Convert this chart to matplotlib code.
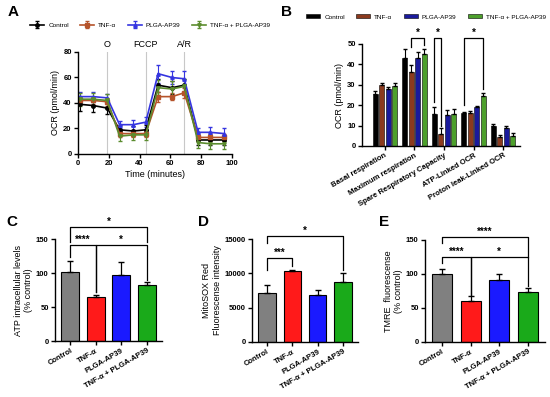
import numpy as np
import matplotlib
matplotlib.use("Agg")
import matplotlib.pyplot as plt

plt.rcParams['font.family'] = ['Liberation Sans', 'DejaVu Sans']
plt.rcParams['font.weight'] = 'bold'
plt.rcParams['axes.linewidth'] = 1.0

# ---- data ----
# A: OCR time course
time_min = [1, 10, 19, 27, 36, 44, 52, 61, 69, 78, 86, 95]
ocr_control = [39, 38, 36, 19, 18, 19, 54, 52, 54, 11, 11, 11]
ocr_tnf = [42, 42, 41, 16, 16, 16, 45, 45, 48, 13, 13, 13]
ocr_plga = [45, 45, 44, 23, 23, 25, 63, 60, 59, 17, 17, 16]
ocr_combo = [43, 43, 42, 14, 15, 15, 52, 51, 53, 9, 8, 8]
ocr_err_control = [5, 5, 5, 4, 4, 4, 5, 5, 5, 4, 4, 4]
ocr_err_tnf = [3, 3, 3, 3, 3, 3, 4, 3, 4, 3, 3, 3]
ocr_err_plga = [4, 4, 3, 3, 4, 4, 7, 5, 6, 3, 4, 4]
ocr_err_combo = [5, 5, 5, 4, 4, 4, 6, 6, 6, 4, 4, 4]
injections = [19, 44, 69]
injection_labels = ['O', 'FCCP', 'A/R']

# B: mito stress parameters
params = ['Basal respiration', 'Maximum respiration', 'Spare Respiratory Capacity',
          'ATP-Linked OCR', 'Proton leak-Linked OCR']
b_control = [25.5, 43, 15.5, 16, 10]
b_tnf = [30, 36.5, 6, 16, 4.5]
b_plga = [28, 43, 15, 19, 9]
b_combo = [29.5, 45, 15.5, 24.5, 5]
b_err_control = [1.5, 4.5, 3.5, 0.8, 0.6]
b_err_tnf = [1, 3, 3, 1, 1]
b_err_plga = [1, 3, 2.5, 0.6, 0.6]
b_err_combo = [1.5, 2.5, 2.5, 1.5, 1.2]

groups = ['Control', 'TNF-α', 'PLGA-AP39', 'TNF-α + PLGA-AP39']
# C: ATP
atp = [101, 65, 97, 82]
atp_err = [16, 3, 19, 5]
# D: MitoSOX
mitosox = [7100, 10300, 6900, 8800]
mitosox_err = [1200, 200, 700, 1200]
# E: TMRE
tmre = [100, 60, 91, 74]
tmre_err = [7, 7, 9, 5]

line_colors = ['black', '#b5532a', '#3535e0', '#5b8c2e']
line_markers = ['o', 's', '^', 'v']
b_colors = ['black', '#8b3a1e', '#1a1a9c', '#4da02c']
bar_colors = ['#808080', '#ff1a1a', '#1a1aff', '#1aaa1a']

W, H = 550, 397
fig = plt.figure(figsize=(W / 100, H / 100), dpi=100)


def px_axes(left, top, right, bottom):
    return fig.add_axes([left / W, 1 - bottom / H, (right - left) / W, (bottom - top) / H])


def style(ax):
    ax.spines['top'].set_visible(False)
    ax.spines['right'].set_visible(False)
    ax.tick_params(labelsize=5.5, width=1.0, length=3, pad=1.5)


def bracket(ax, x1, x2, y, y1, y2, text, ts=7):
    ax.plot([x1, x1, x2, x2], [y1, y, y, y2], color='black', lw=0.9, clip_on=False)
    ax.text((x1 + x2) / 2, y, text, ha='center', va='bottom', fontsize=ts, clip_on=False)


# ---- A ----
axA = px_axes(78, 52, 232, 154)
series = [ocr_control, ocr_tnf, ocr_plga, ocr_combo]
errs = [ocr_err_control, ocr_err_tnf, ocr_err_plga, ocr_err_combo]
for x in injections:
    axA.axvline(x, color='#c8c8c8', lw=0.8, zorder=0)
for lab, x in zip(injection_labels, injections):
    axA.text(x, 82, lab, ha='center', va='bottom', fontsize=6.5, fontweight='normal')
handlesA = []
for s, e, c, m, g in zip(series, errs, line_colors, line_markers, groups):
    h = axA.errorbar(time_min, s, yerr=e, color=c, marker=m, markersize=2.5, lw=1.2,
                     capsize=1.5, elinewidth=0.8, label=g)
    handlesA.append(h)
axA.set_xlim(0, 100)
axA.set_ylim(0, 80)
axA.set_xticks([0, 20, 40, 60, 80, 100])
axA.set_yticks([0, 20, 40, 60, 80])
axA.set_xlabel('Time (minutes)', fontsize=6.5, labelpad=2)
axA.set_ylabel('OCR (pmol/min)', fontsize=6.5, labelpad=2)
style(axA)
fig.legend(handlesA, groups, loc='center', bbox_to_anchor=(150 / W, 1 - 25 / H), ncol=4,
           frameon=False, prop={'size': 4.6, 'weight': 'normal'}, handlelength=2.2,
           columnspacing=1.8, handletextpad=0.6)

# ---- B ----
axB = px_axes(362, 44, 520, 146)
xg = np.arange(len(params))
bvals = [b_control, b_tnf, b_plga, b_combo]
berrs = [b_err_control, b_err_tnf, b_err_plga, b_err_combo]
offs = [-0.33, -0.11, 0.11, 0.33]
handlesB = []
for v, e, c, o, g in zip(bvals, berrs, b_colors, offs, groups):
    h = axB.bar(xg + o, v, width=0.17, color=c, edgecolor='black', lw=0.4, label=g)
    axB.errorbar(xg + o, v, yerr=[np.zeros(len(v)), e], fmt='none', ecolor='black',
                 elinewidth=0.8, capsize=1.2)
    handlesB.append(h)
axB.set_xlim(-0.77, 4.57)
axB.set_ylim(0, 50)
axB.set_yticks([0, 10, 20, 30, 40, 50])
axB.set_xticks(xg)
axB.set_xticklabels(params, rotation=30, ha='right', rotation_mode='anchor')
axB.set_ylabel('OCR (pmol/min)', fontsize=6.5, labelpad=2)
style(axB)
axB.tick_params(axis='x', labelsize=5.5)
bracket(axB, 1 - 0.11, 1 + 0.33, 53, 48.5, 49.5, '*')
bracket(axB, 2 - 0.33, 2 - 0.11, 53, 21.5, 10, '*')
bracket(axB, 3 - 0.33, 3 + 0.33, 53, 20, 28, '*')
fig.legend(handlesB, groups, loc='center', bbox_to_anchor=(426 / W, 1 - 17 / H), ncol=4,
           frameon=False, prop={'size': 4.6, 'weight': 'normal'}, handlelength=2.2,
           handleheight=0.5, columnspacing=1.8, handletextpad=0.6)


def bar_panel(ax, vals, err, ylim, yticks, ylabel):
    xs = np.arange(len(vals))
    ax.bar(xs, vals, width=0.7, color=bar_colors, edgecolor='black', lw=0.8)
    ax.errorbar(xs, vals, yerr=[np.zeros(len(vals)), err], fmt='none', ecolor='black',
                elinewidth=0.9, capsize=2)
    ax.set_xlim(-0.6, 3.6)
    ax.set_ylim(*ylim)
    ax.set_yticks(yticks)
    ax.set_xticks(xs)
    ax.set_xticklabels(groups, rotation=30, ha='right', rotation_mode='anchor')
    ax.set_ylabel(ylabel, fontsize=6.5, labelpad=2)
    style(ax)


# ---- C ----
axC = px_axes(55, 239, 162, 341)
bar_panel(axC, atp, atp_err, (0, 150), [0, 50, 100, 150],
          'ATP intracellular levels\n(% control)')
bracket(axC, 0, 1, 141, 124, 72, '****')
bracket(axC, 1, 3, 141, 72, 90, '*')
bracket(axC, 0, 3, 168, 145, 145, '*')

# ---- D ----
axD = px_axes(252, 239, 358, 342)
bar_panel(axD, mitosox, mitosox_err, (0, 15000), [0, 5000, 10000, 15000],
          'MitoSOX Red\nFluorescense intensity')
bracket(axD, 0, 1, 12300, 10500, 11000, '***')
bracket(axD, 0, 3, 15400, 14400, 10500, '*')

# ---- E ----
axE = px_axes(425, 240, 545, 342)
bar_panel(axE, tmre, tmre_err, (0, 150), [0, 50, 100, 150],
          'TMRE  fluorescense\n(% control)')
bracket(axE, 0, 1, 125, 116, 69, '****')
bracket(axE, 1, 3, 125, 69, 82, '*')
bracket(axE, 0, 3, 155, 145, 125, '****')

# panel letters
for lab, x, y in [('A', 8, 12), ('B', 281, 12), ('C', 6, 222), ('D', 198, 222), ('E', 379, 222)]:
    fig.text(x / W, 1 - y / H, lab, fontsize=11, fontweight='bold', ha='left', va='center')

fig.savefig('out.png', dpi=100)
